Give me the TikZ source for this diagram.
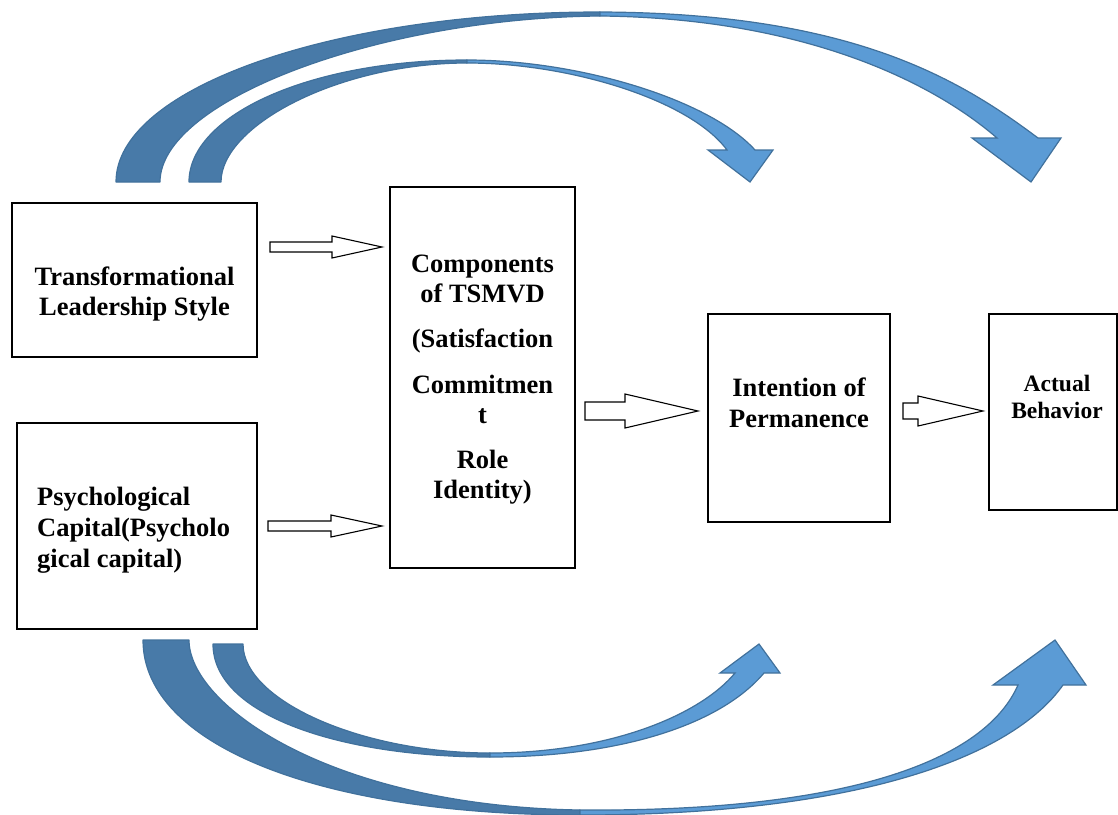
\documentclass[tikz,border=0pt]{standalone}
\usepackage{fontspec}
\setmainfont{Liberation Serif}
\definecolor{backblue}{RGB}{72,122,168}
\definecolor{frontblue}{RGB}{91,155,213}
\definecolor{edgeblue}{RGB}{65,113,156}
\newcommand\mainfnt{\fontsize{26.5}{30}\selectfont\bfseries}
\newcommand\smallfnt{\fontsize{23.5}{27}\selectfont\bfseries}
\newcommand\blockarrow[6]{%
  \draw[blk] (#1,#3-#4) -- (#6,#3-#4) -- (#6,#3-#5) -- (#2,#3) -- (#6,#3+#5) -- (#6,#3+#4) -- (#1,#3+#4) -- cycle;}
\tikzset{
  box/.style={draw=black, line width=1.6pt, fill=white, inner sep=0pt},
  lbl/.style={inner sep=0pt, anchor=base},
  blk/.style={draw=black, fill=white, line width=1.1pt, line join=miter},
  backpart/.style={fill=backblue, draw=edgeblue, line width=1.2pt, line join=round},
  frontpart/.style={fill=frontblue, draw=edgeblue, line width=1.2pt, line join=miter},
}
\begin{document}
\begin{tikzpicture}[x=1pt, y=-1pt]
\useasboundingbox (0,0) rectangle (1118,814);
\clip (0,0) rectangle (1118,814);

% ---------- curved arrows (top) ----------
% outer top arrow
\draw[backpart] (116,182) .. controls (116,88) and (333,12) .. (600,12)
  -- (600,16) .. controls (380,18) and (160,100) .. (160,182) -- cycle;
\draw[frontpart] (600,12) .. controls (850,13) and (958,78) .. (1038,138)
  -- (1061,138) -- (1031,182) -- (972,138) -- (997,138)
  .. controls (930,80) and (800,18) .. (600,16) -- cycle;
% inner top arrow
\draw[backpart] (189,182) .. controls (189,115) and (310,60) .. (467,60)
  -- (467,63) .. controls (340,63) and (221,125) .. (221,182) -- cycle;
\draw[frontpart] (467,60) .. controls (580,60) and (710,100) .. (755,150)
  -- (773,150) -- (750,182) -- (708,150) -- (727,150)
  .. controls (690,100) and (570,63) .. (467,63) -- cycle;

% ---------- curved arrows (bottom) ----------
% outer bottom arrow
\draw[backpart] (143,640) .. controls (143,745) and (320,815) .. (580,815)
  -- (580,810) .. controls (330,806) and (189,705) .. (189,640) -- cycle;
\draw[frontpart] (580,815) .. controls (850,815) and (1010,760) .. (1063,685)
  -- (1086,685) -- (1055,640) -- (993,685) -- (1018,685)
  .. controls (985,760) and (850,812) .. (580,810) -- cycle;
% inner bottom arrow
\draw[backpart] (213,644) .. controls (213,715) and (340,757) .. (490,757)
  -- (490,753) .. controls (360,753) and (243,700) .. (243,644) -- cycle;
\draw[frontpart] (490,757) .. controls (620,757) and (720,725) .. (764,673)
  -- (780,673) -- (759,644) -- (720,673) -- (735,673)
  .. controls (700,715) and (610,753) .. (490,753) -- cycle;

% ---------- boxes ----------
\node[box, minimum width=245pt, minimum height=154pt] (tls) at (134.5,280) {};
\node[box, minimum width=240pt, minimum height=206pt] (pc) at (137,526) {};
\node[box, minimum width=185pt, minimum height=381pt] (comp) at (482.5,377.5) {};
\node[box, minimum width=182pt, minimum height=208pt] (intent) at (799,418) {};
\node[box, minimum width=128pt, minimum height=196pt] (act) at (1053,412) {};

% ---------- labels ----------
\node[lbl] (tlsT) at (134.5,285) {\parbox[t]{240pt}{\mainfnt\centering Transformational\\Leadership Style}};
\node[lbl, anchor=base west] (pcT) at (37,505) {\parbox[t]{215pt}{\fontsize{26.5}{31}\selectfont\bfseries\raggedright Psychological\\Capital(Psycholo\\gical capital)}};
\node[lbl] (compT) at (482.5,272) {\parbox[t]{180pt}{\mainfnt\centering Components\\of TSMVD\\[15pt](Satisfaction\\[16pt]Commitmen\\t\\[15pt]Role\\Identity)}};
\node[lbl] (intentT) at (799,396) {\parbox[t]{178pt}{\fontsize{26.5}{31}\selectfont\bfseries\centering Intention of\\Permanence}};
\node[lbl] (actT) at (1057,391) {\parbox[t]{124pt}{\smallfnt\centering Actual\\Behavior}};

% ---------- block arrows ----------
\blockarrow{270}{382}{247}{5}{11}{332}
\blockarrow{268}{382}{526}{5}{11}{331}
\blockarrow{585}{698}{411}{9}{17}{625}
\blockarrow{903}{983}{411}{8}{15}{918}
\end{tikzpicture}
\end{document}
